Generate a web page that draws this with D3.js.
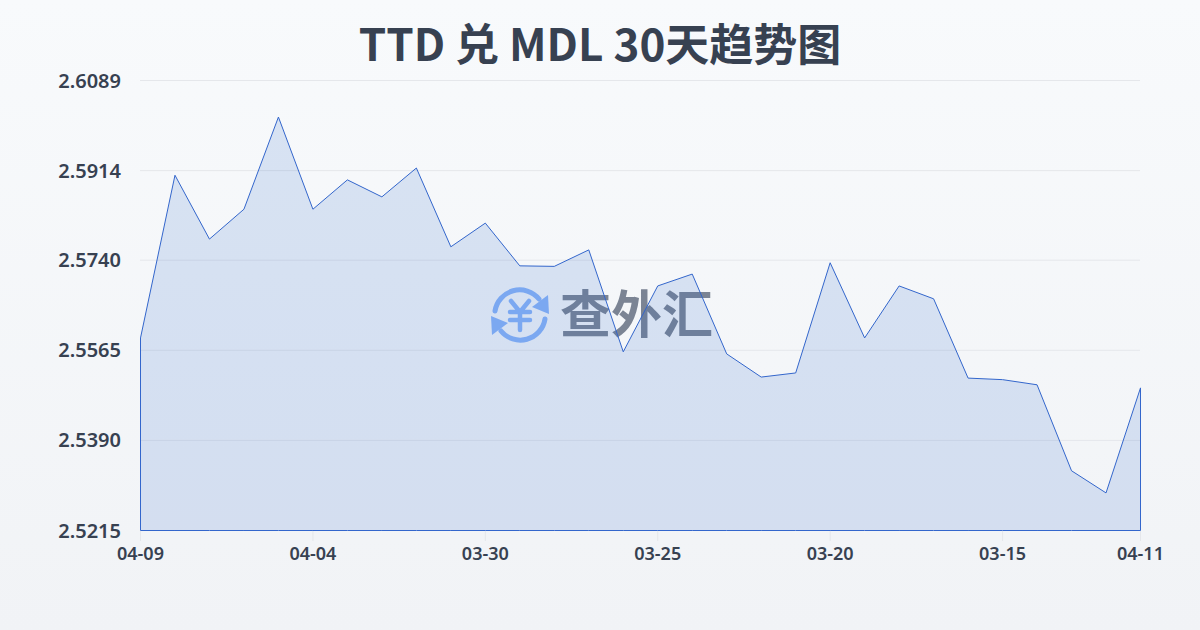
<!DOCTYPE html>
<html><head><meta charset="utf-8">
<script src="https://cdn.jsdelivr.net/npm/d3@7/dist/d3.min.js"></script>
<style>
html,body{margin:0;padding:0;width:1200px;height:630px;overflow:hidden}
svg{display:block}
text{font-family:"Noto Sans","Noto Sans CJK SC",sans-serif}
</style></head><body><svg id="c" width="1200" height="630"></svg>
<script>
const titleText = "TTD 兑 MDL 30天趋势图";
const watermarkText = "查外汇";
const dates = ["04-09","04-08","04-07","04-06","04-05","04-04","04-03","04-02","04-01","03-31",
"03-30","03-29","03-28","03-27","03-26","03-25","03-24","03-23","03-22","03-21",
"03-20","03-19","03-18","03-17","03-16","03-15","03-14","03-13","03-12","04-11"];
const rates = [2.5589,2.5905,2.5781,2.5839,2.6018,2.5839,2.5896,2.5863,2.5919,2.5766,
2.5812,2.5729,2.5728,2.5760,2.5562,2.5690,2.5713,2.5558,2.5513,2.5521,
2.5735,2.5589,2.5690,2.5665,2.5511,2.5508,2.5498,2.5331,2.5288,2.5492];
const yTicks = [2.5215,2.5390,2.5565,2.5740,2.5914,2.6089];
const xTickLabels = ["04-09","04-04","03-30","03-25","03-20","03-15","04-11"];
const xTickIndex = [0,5,10,15,20,25,29];

const svg = d3.select("#c");
const defs = svg.append("defs");
const bg = defs.append("linearGradient").attr("id","bg").attr("x1",0).attr("y1",0).attr("x2",0).attr("y2",1);
bg.append("stop").attr("offset",0).attr("stop-color","#f8fafc");
bg.append("stop").attr("offset",1).attr("stop-color","#f1f3f6");
svg.append("rect").attr("width",1200).attr("height",630).attr("fill","url(#bg)");

const x = d3.scaleLinear().domain([0,dates.length-1]).range([140.5,1140.5]);
const y = d3.scaleLinear().domain([yTicks[0],yTicks[yTicks.length-1]]).range([530.5,80.5]);
const ink = "#374151";

svg.append("text").attr("x",600).attr("y",61).attr("text-anchor","middle")
 .attr("font-size",44).attr("font-weight",700).attr("fill",ink)
 .style("font-family",'"Noto Sans CJK SC","Noto Sans",sans-serif').text(titleText);

// grid
svg.append("g").selectAll("line").data(yTicks.slice(1)).join("line")
 .attr("x1",140).attr("x2",1140).attr("y1",d=>y(d)).attr("y2",d=>y(d))
 .attr("stroke","#e5e7eb").attr("stroke-width",1);

// watermark
const wm = svg.append("g");
const logo = wm.append("g").attr("transform","translate(520,315)").attr("fill","none");
const blue = "#8ab4f8";
logo.append("path").attr("d","M-25,-4 A25,25 0 0 1 19,-16").attr("stroke",blue).attr("stroke-width",5).attr("stroke-linecap","round");
logo.append("path").attr("d","M25,4 A25,25 0 0 1 -19,16").attr("stroke",blue).attr("stroke-width",5).attr("stroke-linecap","round");
logo.append("path").attr("d","M12,-8 L29,-1 L28,-20 Z").attr("fill",blue);
logo.append("path").attr("d","M-12,8 L-29,1 L-28,20 Z").attr("fill",blue);
logo.append("path").attr("d","M-9,-14 L0,-3 L9,-14 M-10,-3 H10 M-10,5 H10 M0,-3 V15").attr("stroke",blue).attr("stroke-width",4.5).attr("stroke-linecap","round").attr("stroke-linejoin","round");
wm.append("text").attr("x",560).attr("y",333).attr("font-size",51).attr("font-weight",700)
 .attr("fill","#7b8494").style("font-family",'"Noto Sans CJK SC",sans-serif').text(watermarkText);

// area
const area = d3.area().x((d,i)=>x(i)).y0(y(yTicks[0])).y1(d=>y(d));
svg.append("path").datum(rates).attr("d",area+"" && area(rates)+"Z")
 .attr("fill","#2563c9").attr("fill-opacity",0.15)
 .attr("stroke","#3366cc").attr("stroke-width",1).attr("stroke-linejoin","miter");

// axis ticks
svg.append("g").selectAll("line").data(xTickIndex).join("line")
 .attr("x1",d=>x(d)).attr("x2",d=>x(d)).attr("y1",531).attr("y2",541)
 .attr("stroke","#e5e7eb").attr("stroke-width",1);

svg.append("g").selectAll("text").data(yTicks).join("text")
 .attr("x",121).attr("y",d=>y(d)+7).attr("text-anchor","end")
 .attr("font-size",20).attr("font-weight",600).attr("fill",ink).text(d=>d.toFixed(4));

svg.append("g").selectAll("text").data(xTickIndex).join("text")
 .attr("x",d=>x(d)).attr("y",560).attr("text-anchor","middle")
 .attr("font-size",18).attr("font-weight",600).attr("fill",ink).text((d,i)=>xTickLabels[i]);
</script></body></html>
